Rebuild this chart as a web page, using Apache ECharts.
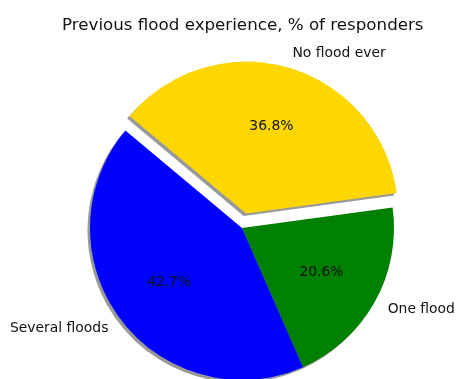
<!DOCTYPE html>
<html>
<head>
<meta charset="utf-8">
<script src="https://cdn.jsdelivr.net/npm/echarts@6/dist/echarts.min.js"></script>
<style>html,body{margin:0;padding:0;background:#fff}#c{width:457px;height:379px}</style>
</head>
<body>
<div id="c"></div>
<script>
const categories = ['No flood ever', 'One flood', 'Several floods'];
const values = [36.8, 20.6, 42.7];
const colors = ['#FFD700', '#008000', '#0000FF'];
const exploded = [true, false, false];

const chart = echarts.init(document.getElementById('c'), null, {renderer: 'canvas'});
const R = 152;
const center = [242, 228];
const font = 'DejaVu Sans';
const startAngle = 140.1;

chart.setOption({
  animation: false,
  title: {
    text: 'Previous flood experience, % of responders',
    left: 57, top: 12,
    textStyle: {fontFamily: font, fontSize: 16.7, fontWeight: 'normal', color: '#111'}
  },
  series: [
    {
      type: 'pie', center: center, radius: [0, R], startAngle: startAngle, clockwise: true,
      selectedMode: 'multiple', selectedOffset: 15, avoidLabelOverlap: false, silent: true,
      emphasis: {disabled: true},
      itemStyle: {shadowColor: 'rgba(0,0,0,0.4)', shadowOffsetX: -2.5, shadowOffsetY: 2.5, shadowBlur: 0},
      label: {show: true, position: 'outside', formatter: '{b}', fontFamily: font, fontSize: 13.9, color: '#111', distanceToLabelLine: 0},
      labelLine: {show: false, length: 15, length2: 0},
      labelLayout: {hideOverlap: false},
      data: categories.map((n, i) => ({name: n, value: values[i], selected: exploded[i], itemStyle: {color: colors[i]}}))
    },
    {
      type: 'pie', center: center, radius: [0, R * 1.16], startAngle: startAngle, clockwise: true,
      selectedMode: 'multiple', selectedOffset: 15, avoidLabelOverlap: false, silent: true,
      emphasis: {disabled: true},
      itemStyle: {color: 'rgba(0,0,0,0)'},
      label: {show: true, position: 'inside', formatter: p => p.value.toFixed(1) + '%', fontFamily: font, fontSize: 13.9, color: '#111'},
      labelLine: {show: false},
      labelLayout: {hideOverlap: false},
      data: categories.map((n, i) => ({name: n, value: values[i], selected: exploded[i], itemStyle: {color: 'rgba(0,0,0,0)'}}))
    }
  ]
});
</script>
</body>
</html>
